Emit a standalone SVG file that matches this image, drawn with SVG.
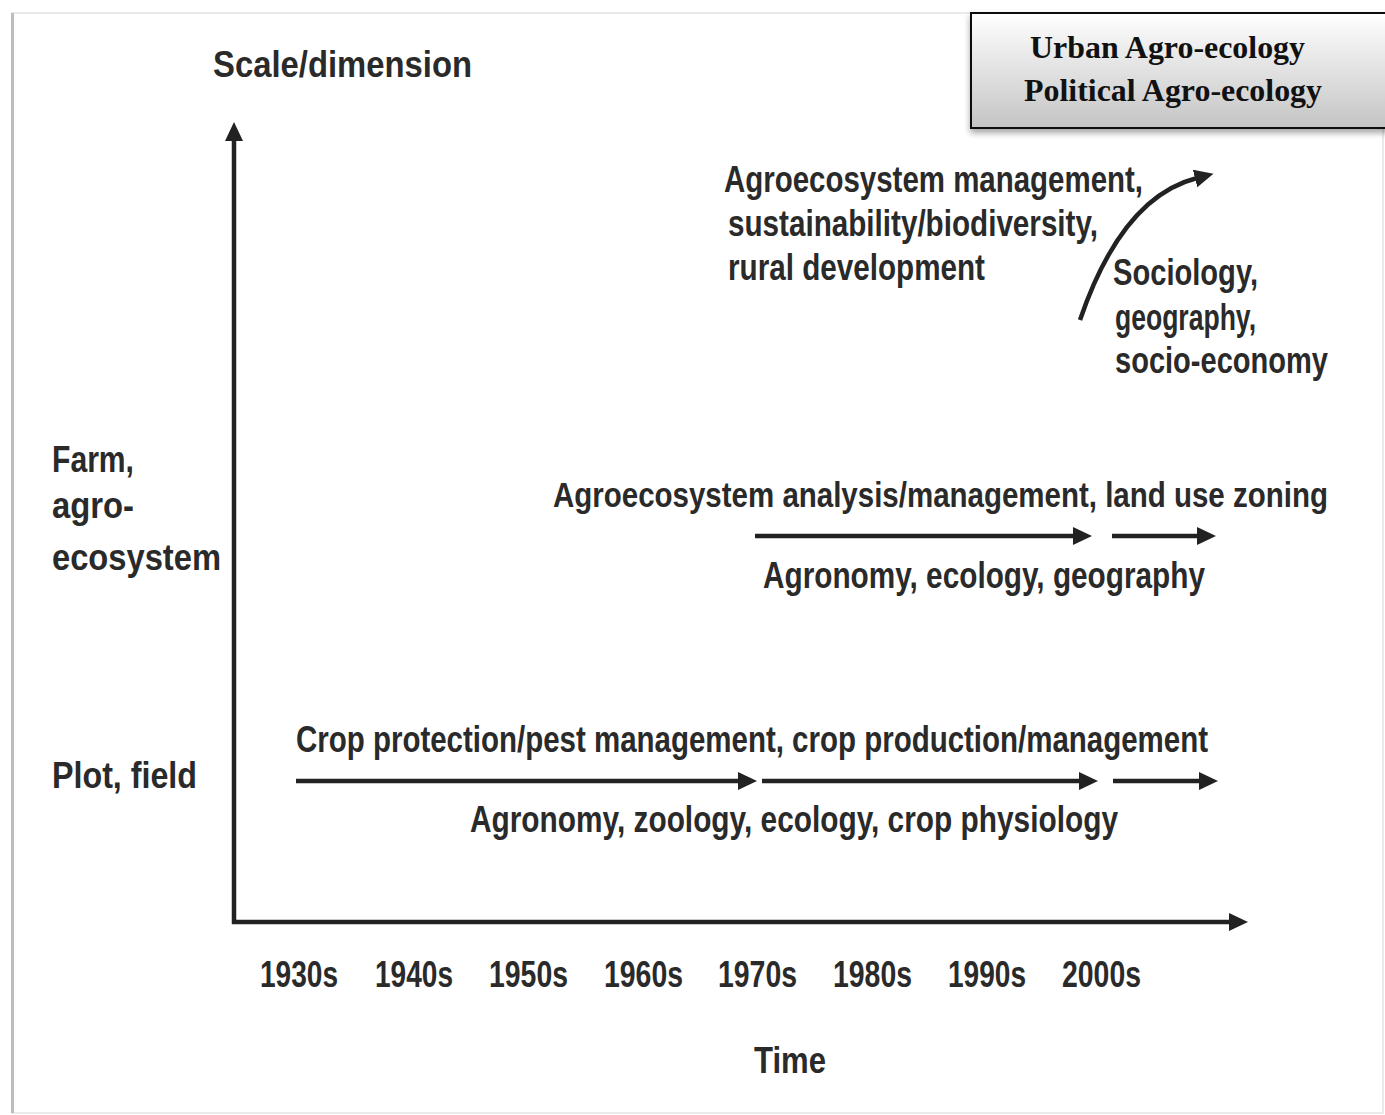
<svg xmlns="http://www.w3.org/2000/svg" width="1385" height="1115" viewBox="0 0 1385 1115">
<style>
.t{font-family:"Liberation Sans",Arial,sans-serif;font-weight:bold;font-size:36px;fill:#2a2a2a}
.s{font-family:"Liberation Serif","Times New Roman",serif;font-weight:bold;font-size:32px;fill:#111}
.ln{stroke:#222;stroke-width:4.5;fill:none;marker-end:url(#ah)}
</style>
<defs>
<marker id="ah" markerUnits="userSpaceOnUse" markerWidth="22" markerHeight="20" refX="2" refY="9" orient="auto">
<path d="M0,0 L19,9 L0,18 Z" fill="#222"/>
</marker>
<linearGradient id="bg" x1="0" y1="0" x2="0" y2="1">
<stop offset="0" stop-color="#ffffff"/>
<stop offset="1" stop-color="#c4c4c4"/>
</linearGradient>
<filter id="sh" x="-10%" y="-10%" width="130%" height="140%">
<feDropShadow dx="0" dy="4" stdDeviation="3" flood-color="#000" flood-opacity="0.35"/>
</filter>
</defs>
<rect width="1385" height="1115" fill="#fff"/>
<g id="frame">
<rect x="12" y="13" width="1371" height="1100" fill="none" stroke="#e4e4e4" stroke-width="1.5"/>
<line x1="12.5" y1="13" x2="12.5" y2="1113" stroke="#bdbdbd" stroke-width="3"/>
</g>
<g id="box">
<rect x="971" y="13" width="430" height="115" fill="url(#bg)" stroke="#111" stroke-width="2" filter="url(#sh)"/>
<text class="s" x="1030" y="58" textLength="275" lengthAdjust="spacingAndGlyphs">Urban Agro-ecology</text>
<text class="s" x="1024" y="101" textLength="298" lengthAdjust="spacingAndGlyphs">Political Agro-ecology</text>
</g>
<g id="connectors">
<line class="ln" x1="234" y1="924" x2="234" y2="139"/>
<line class="ln" x1="232" y1="922" x2="1231" y2="922"/>
<line class="ln" x1="296" y1="781" x2="740" y2="781"/>
<line class="ln" x1="762" y1="781" x2="1081" y2="781"/>
<line class="ln" x1="1113" y1="781" x2="1201" y2="781"/>
<line class="ln" x1="755" y1="536" x2="1075" y2="536"/>
<line class="ln" x1="1112" y1="536" x2="1199" y2="536"/>
<path class="ln" d="M1080,320 C1110,232 1150,190 1197,178"/>
</g>
<g id="axis-labels">
<text class="t" x="213" y="77" font-size="38" textLength="259" lengthAdjust="spacingAndGlyphs">Scale/dimension</text>
<text class="t" x="754" y="1073" textLength="72" lengthAdjust="spacingAndGlyphs">Time</text>
<text class="t" x="52" y="472" textLength="82" lengthAdjust="spacingAndGlyphs">Farm,</text>
<text class="t" x="52" y="518" textLength="82" lengthAdjust="spacingAndGlyphs">agro-</text>
<text class="t" x="52" y="570" textLength="169" lengthAdjust="spacingAndGlyphs">ecosystem</text>
<text class="t" x="52" y="788" textLength="145" lengthAdjust="spacingAndGlyphs">Plot, field</text>
</g>
<g id="decades">
<text class="t" x="260" y="987" textLength="78" lengthAdjust="spacingAndGlyphs">1930s</text>
<text class="t" x="375" y="987" textLength="78" lengthAdjust="spacingAndGlyphs">1940s</text>
<text class="t" x="489" y="987" textLength="79" lengthAdjust="spacingAndGlyphs">1950s</text>
<text class="t" x="604" y="987" textLength="79" lengthAdjust="spacingAndGlyphs">1960s</text>
<text class="t" x="718" y="987" textLength="79" lengthAdjust="spacingAndGlyphs">1970s</text>
<text class="t" x="833" y="987" textLength="79" lengthAdjust="spacingAndGlyphs">1980s</text>
<text class="t" x="948" y="987" textLength="78" lengthAdjust="spacingAndGlyphs">1990s</text>
<text class="t" x="1062" y="987" textLength="79" lengthAdjust="spacingAndGlyphs">2000s</text>
</g>
<g id="plot-level">
<text class="t" transform="translate(296,752) scale(0.75,1)" x="0" y="0" textLength="1216" lengthAdjust="spacingAndGlyphs">Crop protection/pest management, crop production/management</text>
<text class="t" x="470" y="832" textLength="648" lengthAdjust="spacingAndGlyphs">Agronomy, zoology, ecology, crop physiology</text>
</g>
<g id="farm-level">
<text class="t" transform="translate(553,507) scale(0.7,1)" x="0" y="0" textLength="1107" lengthAdjust="spacingAndGlyphs">Agroecosystem analysis/management, land use zoning</text>
<text class="t" x="763" y="588" textLength="442" lengthAdjust="spacingAndGlyphs">Agronomy, ecology, geography</text>
</g>
<g id="upper-level">
<text class="t" x="724" y="192" textLength="419" lengthAdjust="spacingAndGlyphs">Agroecosystem management,</text>
<text class="t" x="728" y="236" textLength="370" lengthAdjust="spacingAndGlyphs">sustainability/biodiversity,</text>
<text class="t" x="728" y="280" textLength="257" lengthAdjust="spacingAndGlyphs">rural development</text>
<text class="t" x="1113" y="285" textLength="145" lengthAdjust="spacingAndGlyphs">Sociology,</text>
<text class="t" x="1115" y="330" textLength="141" lengthAdjust="spacingAndGlyphs">geography,</text>
<text class="t" x="1115" y="373" textLength="213" lengthAdjust="spacingAndGlyphs">socio-economy</text>
</g>
</svg>
